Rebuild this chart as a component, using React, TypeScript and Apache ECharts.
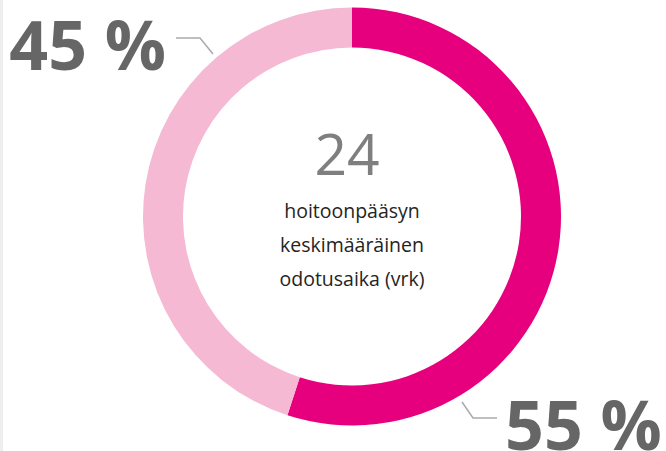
import React, { useEffect, useRef } from "react";
import * as echarts from "echarts";

const categories = ["Osuus A", "Osuus B"];
const values = [55, 45];
const colors = ["#E6007E", "#F5B9D4"];
const centerValue = "24";
const centerLines = ["hoitoonpääsyn", "keskimääräinen", "odotusaika (vrk)"];

export default function App() {
  const ref = useRef<HTMLDivElement>(null);
  useEffect(() => {
    if (!ref.current) return;
    const chart = echarts.init(ref.current, null, { renderer: "svg" });
    const cx = 352;
    const cy = 216.5;
    const total = values.reduce((a, b) => a + b, 0);
    chart.setOption({
      animation: false,
      backgroundColor: "#ffffff",
      graphic: [
        { type: "rect", shape: { x: 0, y: 0, width: 3, height: 451 }, style: { fill: "#EEEEEE" }, silent: true },
        {
          type: "text",
          x: cx - 5,
          y: 153,
          style: {
            text: centerValue,
            font: '400 57px "Open Sans", sans-serif',
            fill: "#7F7F7F",
            textAlign: "center",
            textVerticalAlign: "middle",
          },
        },
        ...centerLines.map((t, i) => ({
          type: "text",
          x: cx,
          y: 210 + i * 34,
          style: {
            text: t,
            font: '19.5px "Open Sans", sans-serif',
            fill: "#252423",
            textAlign: "center",
            textVerticalAlign: "middle",
          },
        })),
      ],
      series: [
        {
          type: "pie",
          center: [cx, cy],
          radius: [169, 209],
          startAngle: 90,
          clockwise: true,
          avoidLabelOverlap: false,
          emphasis: { disabled: true },
          data: categories.map((name, i) => ({
            name,
            value: values[i],
            itemStyle: { color: colors[i] },
          })),
          label: {
            show: true,
            position: "outside",
            formatter: (p: any) => `${Math.round((p.value / total) * 100)} %`,
            fontFamily: '"Open Sans", sans-serif',
            fontWeight: "bold",
            fontSize: 68,
            lineHeight: 50,
            color: "#666666",
          },
          labelLine: {
            show: true,
            lineStyle: { color: "#AAAAAA", width: 1.5 },
          },
          labelLayout: (params: any) => {
            if (params.dataIndex === 0) {
              return {
                x: 505,
                y: 423,
                align: "left",
                verticalAlign: "middle",
                labelLinePoints: [
                  [462, 402],
                  [473, 418],
                  [497, 418],
                ],
              };
            }
            return {
              x: 166,
              y: 43,
              align: "right",
              verticalAlign: "middle",
              labelLinePoints: [
                [213, 54],
                [200, 38],
                [176, 38],
              ],
            };
          },
        },
      ],
    });
    return () => chart.dispose();
  }, []);
  return (
    <div
      ref={ref}
      style={{ position: "fixed", left: 0, top: 0, width: 666, height: 451 }}
    />
  );
}
